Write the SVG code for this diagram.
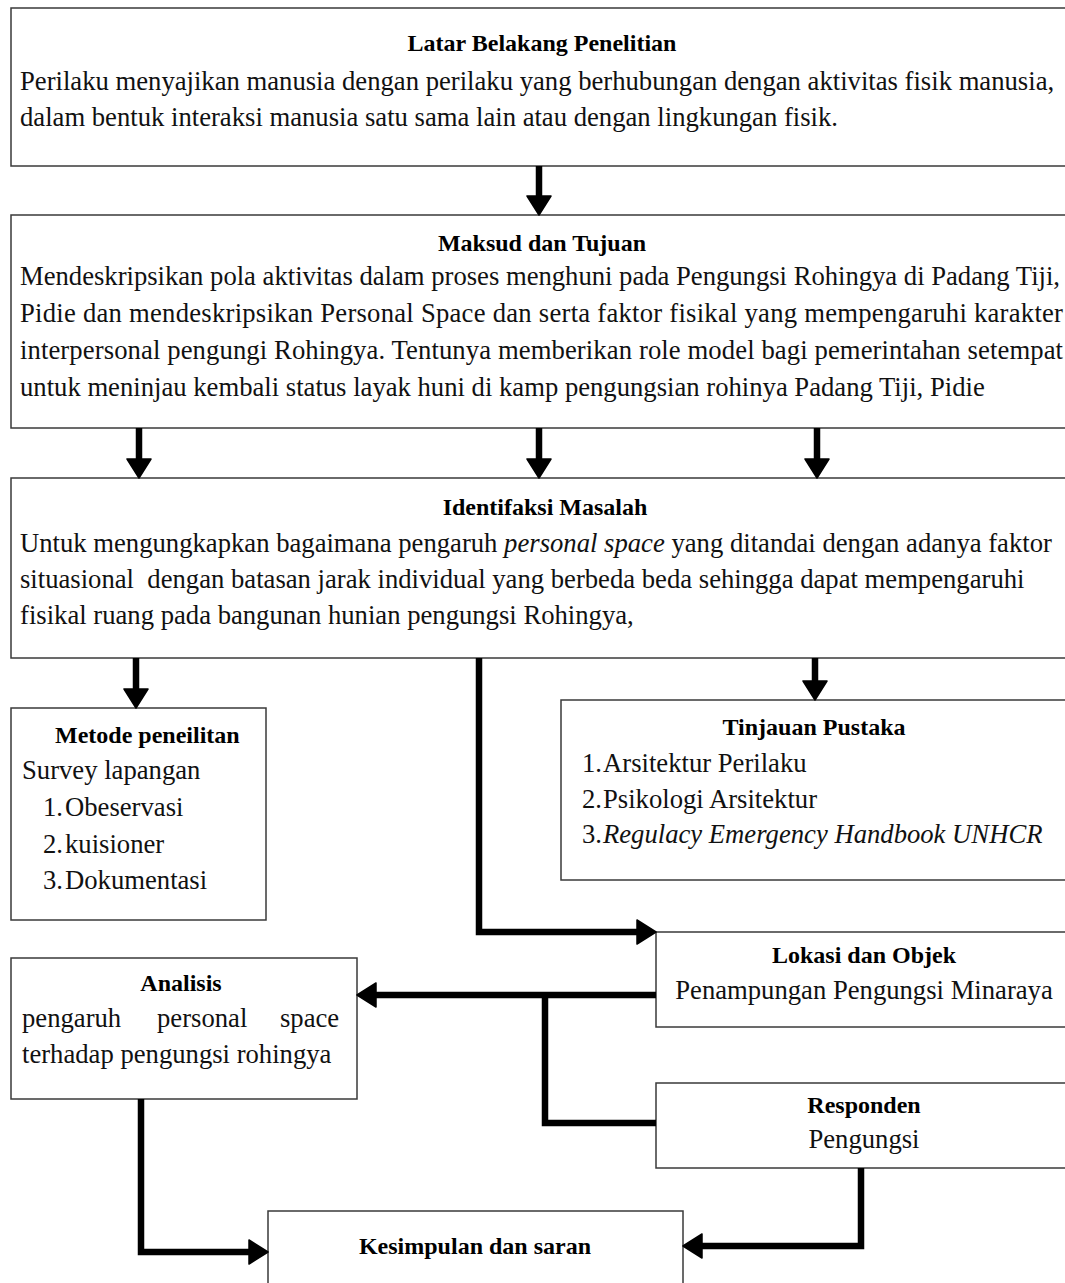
<svg xmlns="http://www.w3.org/2000/svg" width="1065" height="1283" viewBox="0 0 1065 1283">
<style>
  .box { fill: #fff; stroke: #3a3a3a; stroke-width: 1.5; }
  .t { font-family: "Liberation Serif", "Times New Roman", serif; font-size: 26.67px; fill: #111; }
  .h { font-family: "Liberation Serif", "Times New Roman", serif; font-size: 24px; font-weight: bold; fill: #000; }
  .c { text-anchor: middle; }
  .it { font-style: italic; }
  .con { fill: none; stroke: #000; stroke-width: 6.5; stroke-linejoin: miter; }
</style>
<defs>
  <marker id="ah" markerUnits="userSpaceOnUse" markerWidth="22" markerHeight="28" viewBox="-1 -14 22 28" refX="0" refY="0" orient="auto">
    <path d="M0,-12 L19,0 L0,12 Z" fill="#000" stroke="#000" stroke-width="1.5" stroke-linejoin="round"/>
  </marker>
</defs>
<rect width="1065" height="1283" fill="#fff"/>

<g id="latar">
  <rect class="box" x="11" y="8" width="1070" height="158"/>
  <text class="h c" x="542" y="51">Latar Belakang Penelitian</text>
  <text class="t" x="20" y="90">Perilaku menyajikan manusia dengan perilaku yang berhubungan dengan aktivitas fisik manusia,</text>
  <text class="t" x="20" y="126">dalam bentuk interaksi manusia satu sama lain atau dengan lingkungan fisik.</text>
</g>

<g id="maksud">
  <rect class="box" x="11" y="215" width="1070" height="213"/>
  <text class="h c" x="542" y="251">Maksud dan Tujuan</text>
  <text class="t" x="20" y="285" textLength="1040" lengthAdjust="spacing">Mendeskripsikan pola aktivitas dalam proses menghuni pada Pengungsi Rohingya di Padang Tiji,</text>
  <text class="t" x="20" y="322" textLength="1043" lengthAdjust="spacing">Pidie dan mendeskripsikan Personal Space dan serta faktor fisikal yang mempengaruhi karakter</text>
  <text class="t" x="20" y="359" textLength="1043" lengthAdjust="spacing">interpersonal pengungi Rohingya. Tentunya memberikan role model bagi pemerintahan setempat</text>
  <text class="t" x="20" y="396">untuk meninjau kembali status layak huni di kamp pengungsian rohinya Padang Tiji, Pidie</text>
</g>

<g id="identifikasi">
  <rect class="box" x="11" y="478" width="1070" height="180"/>
  <text class="h c" x="545" y="515">Identifaksi Masalah</text>
  <text class="t" x="20" y="552">Untuk mengungkapkan bagaimana pengaruh <tspan class="it">personal space</tspan> yang ditandai dengan adanya faktor</text>
  <text class="t" x="20" y="588" xml:space="preserve">situasional  dengan batasan jarak individual yang berbeda beda sehingga dapat mempengaruhi</text>
  <text class="t" x="20" y="624">fisikal ruang pada bangunan hunian pengungsi Rohingya,</text>
</g>

<g id="metode">
  <rect class="box" x="11" y="708" width="255" height="212"/>
  <text class="h" x="55" y="743">Metode peneilitan</text>
  <text class="t" x="22" y="779">Survey lapangan</text>
  <text class="t" y="816"><tspan x="43">1.</tspan><tspan x="65">Obeservasi</tspan></text>
  <text class="t" y="853"><tspan x="43">2.</tspan><tspan x="65">kuisioner</tspan></text>
  <text class="t" y="889"><tspan x="43">3.</tspan><tspan x="65">Dokumentasi</tspan></text>
</g>

<g id="tinjauan">
  <rect class="box" x="561" y="700" width="520" height="180"/>
  <text class="h c" x="814" y="735">Tinjauan Pustaka</text>
  <text class="t" y="772"><tspan x="582">1.</tspan><tspan x="603">Arsitektur Perilaku</tspan></text>
  <text class="t" y="808"><tspan x="582">2.</tspan><tspan x="603">Psikologi Arsitektur</tspan></text>
  <text class="t" y="843"><tspan x="582">3.</tspan><tspan x="603" class="it">Regulacy Emergency Handbook UNHCR</tspan></text>
</g>

<g id="lokasi">
  <rect class="box" x="656" y="932" width="420" height="95"/>
  <text class="h c" x="864" y="963">Lokasi dan Objek</text>
  <text class="t c" x="864" y="999">Penampungan Pengungsi Minaraya</text>
</g>

<g id="responden">
  <rect class="box" x="656" y="1083" width="420" height="85"/>
  <text class="h c" x="864" y="1113">Responden</text>
  <text class="t c" x="864" y="1148">Pengungsi</text>
</g>

<g id="analisis">
  <rect class="box" x="11" y="958" width="346" height="141"/>
  <text class="h c" x="181" y="991">Analisis</text>
  <text class="t" y="1027"><tspan x="22">pengaruh</tspan><tspan x="157">personal</tspan><tspan x="280">space</tspan></text>
  <text class="t" x="22" y="1063">terhadap pengungsi rohingya</text>
</g>

<g id="kesimpulan">
  <rect class="box" x="268" y="1211" width="415" height="100"/>
  <text class="h c" x="475" y="1254">Kesimpulan dan saran</text>
</g>

<g id="connectors">
  <path class="con" d="M539,166 V196" marker-end="url(#ah)"/>
  <path class="con" d="M139,428 V459" marker-end="url(#ah)"/>
  <path class="con" d="M539,428 V459" marker-end="url(#ah)"/>
  <path class="con" d="M817,428 V459" marker-end="url(#ah)"/>
  <path class="con" d="M136,658 V689" marker-end="url(#ah)"/>
  <path class="con" d="M815,658 V681" marker-end="url(#ah)"/>
  <path class="con" d="M479,658 V932 H637" marker-end="url(#ah)"/>
  <path class="con" d="M656,995 H376" marker-end="url(#ah)"/>
  <path class="con" d="M656,1123 H545 V995"/>
  <path class="con" d="M141,1099 V1252 H249" marker-end="url(#ah)"/>
  <path class="con" d="M861,1168 V1246 H702" marker-end="url(#ah)"/>
</g>
</svg>
